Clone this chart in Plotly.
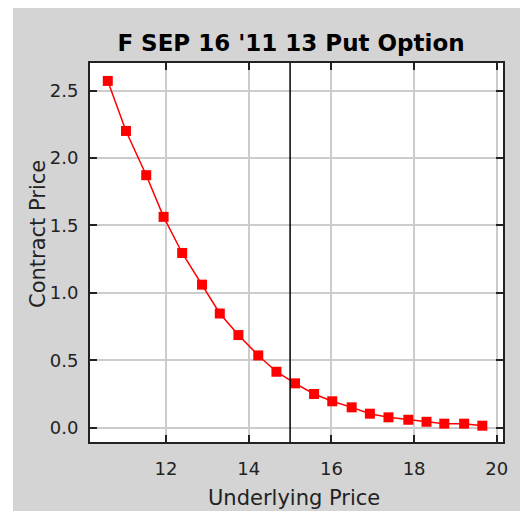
import plotly.graph_objects as go

title_text = "F SEP 16 '11 13 Put Option"
x_label = "Underlying Price"
y_label = "Contract Price"

underlying = [10.59, 11.03, 11.52, 11.94, 12.39, 12.87, 13.30, 13.75, 14.23, 14.67,
              15.12, 15.58, 16.02, 16.49, 16.93, 17.38, 17.86, 18.30, 18.73, 19.21, 19.65]
contract = [2.572, 2.201, 1.873, 1.564, 1.296, 1.061, 0.847, 0.687, 0.536, 0.415,
            0.329, 0.250, 0.196, 0.151, 0.104, 0.077, 0.059, 0.044, 0.030, 0.030, 0.015]
current_price = 15.0

x_ticks = [12, 14, 16, 18, 20]
y_ticks = [0.0, 0.5, 1.0, 1.5, 2.0, 2.5]

# page body has an 8px margin, so the figure is sized to fill the rest of the window
W, H = 520, 503
ML, MR, MT, MB = 82, 25, 55, 69
pw, ph = W - ML - MR, H - MT - MB

font_family = "DejaVu Sans, Liberation Sans, Arial, sans-serif"

fig = go.Figure()
fig.add_trace(go.Scatter(
    x=underlying, y=contract, mode="lines+markers",
    line=dict(color="#ff0000", width=1.5),
    marker=dict(symbol="square", size=10, color="#ff0000"),
    showlegend=False, hoverinfo="x+y",
))

fig.add_shape(type="line", xref="x", yref="paper",
              x0=current_price, x1=current_price, y0=0, y1=1,
              line=dict(color="black", width=1.5), layer="above")

# white strip left of the gray panel
fig.add_shape(type="rect", xref="paper", yref="paper",
              x0=-ML / pw - 0.05, x1=(5 - ML) / pw, y0=-MB / ph - 0.05, y1=1 + MT / ph + 0.05,
              line=dict(width=0), fillcolor="white", layer="above")

fig.add_annotation(text=y_label, xref="paper", yref="paper",
                   x=(30 - ML) / pw, y=(H - MB - 226) / ph, xanchor="center", yanchor="middle",
                   textangle=-90, showarrow=False,
                   font=dict(family=font_family, size=21, color="#222222"))
fig.add_annotation(text=x_label, xref="paper", yref="paper",
                   x=(286 - ML) / pw, y=(H - MB - 476) / ph, xanchor="center", yanchor="top",
                   showarrow=False,
                   font=dict(family=font_family, size=21, color="#222222"))

fig.update_layout(
    width=W, height=H,
    margin=dict(l=ML, r=MR, t=MT, b=MB, pad=0),
    paper_bgcolor="#d4d4d4",
    plot_bgcolor="white",
    title=dict(text="<b>" + title_text + "</b>", x=283 / W, xanchor="center",
               y=1 - 35 / H, yanchor="middle",
               font=dict(family=font_family, size=23, color="black")),
    font=dict(family=font_family, size=18, color="#222222"),
)

fig.update_xaxes(
    range=[10.16, 20.15], tickvals=x_ticks, ticktext=[str(v) for v in x_ticks],
    showgrid=True, gridcolor="#cccccc", gridwidth=2,
    showline=True, linecolor="#222222", linewidth=2, mirror="ticks",
    ticks="inside", ticklen=7, tickwidth=2, tickcolor="#222222",
    zeroline=False, ticklabelstandoff=9,
    tickfont=dict(size=18),
)
fig.update_yaxes(
    range=[-0.106, 2.705], tickvals=y_ticks, ticktext=["%.1f" % v for v in y_ticks],
    showgrid=True, gridcolor="#cccccc", gridwidth=2,
    showline=True, linecolor="#222222", linewidth=2, mirror="ticks",
    ticks="inside", ticklen=7, tickwidth=2, tickcolor="#222222",
    zeroline=False, ticklabelstandoff=6,
    tickfont=dict(size=18),
)

fig.write_html("out.html")
